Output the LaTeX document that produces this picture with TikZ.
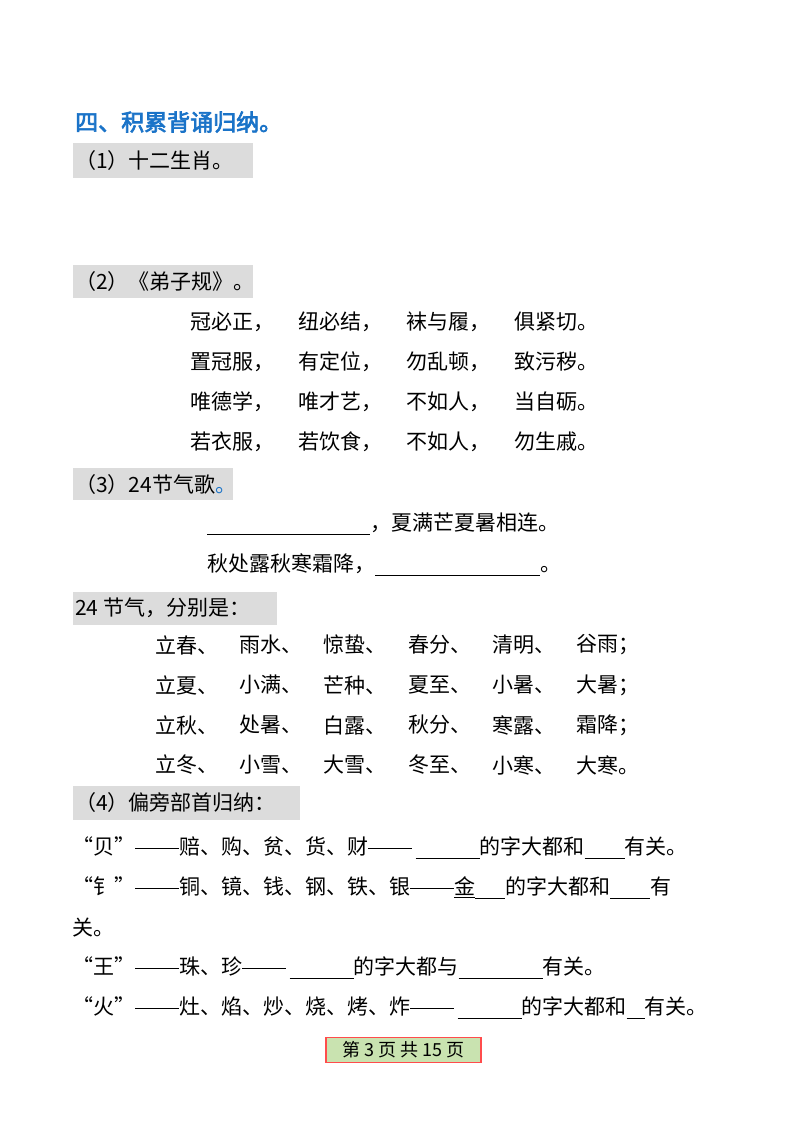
\documentclass[tikz,border=0pt]{standalone}
\usepackage{fontspec}
\newfontfamily\cjk{Noto Sans CJK SC}
\newfontfamily\cjkb[FakeBold=3]{Noto Sans CJK SC}
\definecolor{titleblue}{HTML}{1A73C8}
\definecolor{hl}{HTML}{DCDCDC}
\definecolor{foot}{HTML}{C9E3B0}
\newcommand{\blank}[1]{\rule[-4pt]{#1pt}{1pt}}
\newcommand{\dsh}{\rule[6.5pt]{44pt}{0.8pt}}
\begin{document}
\begin{tikzpicture}[x=1pt,y=-1pt,
  txt/.style={anchor=west,inner sep=0pt,font=\cjk\fontsize{21}{21}\selectfont},
  hlbox/.style={fill=hl,draw=none}]
\useasboundingbox (0,0) rectangle (800,1132);
\fill[white] (0,0) rectangle (800,1132);
\node[txt,font=\cjkb\fontsize{23}{23}\selectfont,text=titleblue] (title) at (75,122) {四、积累背诵归纳。};
\fill[hlbox] (73,143) rectangle (253,178);
\node[txt] (s1) at (75,161) {（1）十二生肖。};
\fill[hlbox] (73,265) rectangle (253,298);
\node[txt] (s2) at (75,282) {（2）《弟子规》。};
\foreach \y/\a/\b/\c/\d in {322/冠必正，/纽必结，/袜与履，/俱紧切。,
  362/置冠服，/有定位，/勿乱顿，/致污秽。,
  402/唯德学，/唯才艺，/不如人，/当自砺。,
  442/若衣服，/若饮食，/不如人，/勿生戚。}{
  \node[txt] at (190,\y) {\a};
  \node[txt] at (298,\y) {\b};
  \node[txt] at (406,\y) {\c};
  \node[txt] at (514,\y) {\d};
}
\fill[hlbox] (73,468) rectangle (233,500);
\node[txt] (s3) at (75,485) {（3）24节气歌\textcolor{titleblue}{。}};
\node[txt] (g1) at (207,524) {\blank{163}，夏满芒夏暑相连。};
\node[txt] (g2) at (207,565) {秋处露秋寒霜降，\blank{165}。};
\fill[hlbox] (73,592) rectangle (277,625);
\node[txt] (s24) at (75,608) {24 节气，分别是：};
\foreach \y/\a/\b/\c/\d/\e/\f in {645/立春、/雨水、/惊蛰、/春分、/清明、/谷雨；,
  685/立夏、/小满、/芒种、/夏至、/小暑、/大暑；,
  725/立秋、/处暑、/白露、/秋分、/寒露、/霜降；,
  765/立冬、/小雪、/大雪、/冬至、/小寒、/大寒。}{
  \node[txt] at (155,\y) {\a};
  \node[txt] at (239,\y) {\b};
  \node[txt] at (323,\y) {\c};
  \node[txt] at (408,\y) {\d};
  \node[txt] at (492,\y) {\e};
  \node[txt] at (576,\y) {\f};
}
\fill[hlbox] (73,786) rectangle (300,820);
\node[txt] (s4) at (75,803) {（4）偏旁部首归纳：};
\node[txt] (l1) at (72,848) {“贝”\dsh 赔、购、贫、货、财\dsh\,\blank{64}的字大都和\blank{40}有关。};
\node[txt] (l2) at (72,888) {“钅”\dsh 铜、镜、钱、钢、铁、银\dsh\underline{金}\blank{30}的字大都和\blank{40}有};
\node[txt] (l2b) at (72,928) {关。};
\node[txt] (l3) at (72,968) {“王”\dsh 珠、珍\dsh\,\blank{64}的字大都与\blank{84}有关。};
\node[txt] (l4) at (72,1008) {“火”\dsh 灶、焰、炒、烧、烤、炸\dsh\,\blank{64}的字大都和\blank{18}有关。};
\node[draw=red!70,line width=1.2pt,fill=foot,inner sep=2pt,font=\cjk\fontsize{18}{18}\selectfont,minimum width=155pt,minimum height=25pt] (foot) at (403.5,1050) {第 3 页 共 15 页};
\end{tikzpicture}
\end{document}
